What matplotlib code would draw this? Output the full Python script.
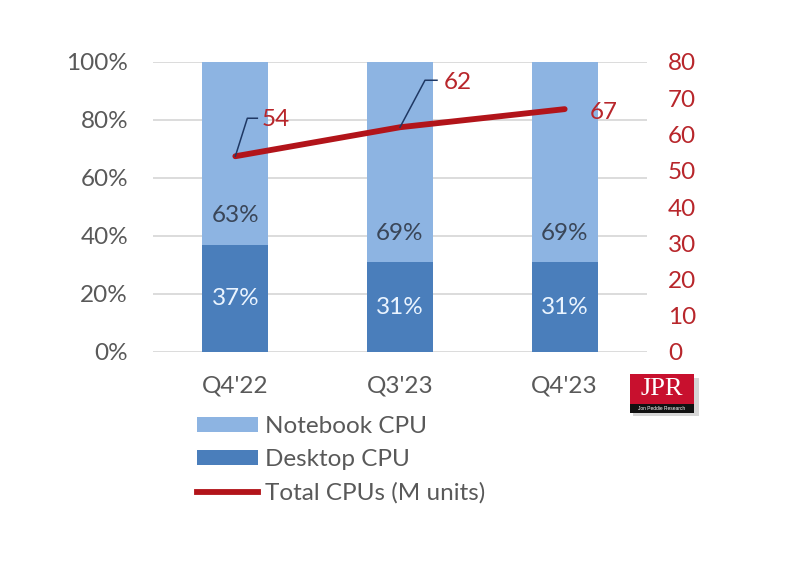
import matplotlib
matplotlib.use("Agg")
import matplotlib.pyplot as plt
from matplotlib.patches import Patch, Rectangle
from matplotlib.lines import Line2D

plt.rcParams['font.family'] = ['Lato', 'DejaVu Sans']

categories = ["Q4'22", "Q3'23", "Q4'23"]
desktop = [37, 31, 31]
notebook = [63, 69, 69]
total_units = [54, 62, 67]
left_ticks = [0, 20, 40, 60, 80, 100]
right_ticks = [0, 10, 20, 30, 40, 50, 60, 70, 80]

C_NOTE = '#8DB4E2'
C_DESK = '#4A7EBB'
C_LINE = '#B2141A'
C_RTXT = '#B8262B'
C_GRAY = '#595959'
FS = 17.5

fig = plt.figure(figsize=(8.03, 5.70), dpi=100)
fig.patch.set_facecolor('white')
W, H = 803, 570
ax = fig.add_axes([153 / W, 1 - 352 / H, 494 / W, 290 / H])
ax2 = ax.twinx()

x = list(range(len(categories)))
ax.bar(x, desktop, width=0.4, color=C_DESK, zorder=2)
ax.bar(x, notebook, width=0.4, bottom=desktop, color=C_NOTE, zorder=2)
ax.set_xlim(-0.5, 2.5)
ax.set_ylim(0, 100)
ax.set_yticks(left_ticks)
ax.set_yticklabels([f"{t}%" for t in left_ticks])
ax.yaxis.grid(True, color='#D9D9D9', linewidth=1.3, zorder=0)
ax.set_axisbelow(True)
for s in ax.spines.values():
    s.set_visible(False)
for s in ax2.spines.values():
    s.set_visible(False)
ax.tick_params(axis='y', length=0, pad=18, labelsize=FS, labelcolor=C_GRAY)
ax.set_xticks(x)
ax.set_xticklabels(categories)
ax.tick_params(axis='x', length=0, pad=17, labelsize=FS, labelcolor=C_GRAY)

for i in x:
    ax.text(i, desktop[i] / 2, f"{desktop[i]}%", ha='center', va='center',
            fontsize=FS, color='#EAF4FF', zorder=3)
    ax.text(i, desktop[i] + 10, f"{notebook[i]}%", ha='center', va='center',
            fontsize=FS, color='#3A4658', zorder=3)

ax2.plot(x, total_units, color=C_LINE, linewidth=4.2, solid_capstyle='round', zorder=4)
ax2.set_ylim(0, 80)
ax2.set_yticks(right_ticks)
ax2.tick_params(axis='y', length=0, pad=15, labelsize=FS, labelcolor=C_RTXT)

# data labels with leader lines
offsets = [((12, 38), (22, 38), (26, 37)),
           ((25, 47), (37, 47), (44, 45)),
           (None, None, (25, -3))]
fig.canvas.draw()
for i, (e1, e2, toff) in enumerate(offsets):
    px, py = ax2.transData.transform((x[i], total_units[i]))
    if e1 is not None:
        fig.lines.append(Line2D([px, px + e1[0], px + e2[0]],
                                [py, py + e1[1], py + e2[1]],
                                transform=None, color='#1F3864', linewidth=1.1))
    ax2.annotate(str(total_units[i]), xy=(x[i], total_units[i]), xytext=toff,
                 textcoords='offset pixels', ha='left', va='center',
                 fontsize=FS, color=C_RTXT, zorder=5)

# legend
handles = [Patch(facecolor=C_NOTE, edgecolor='none'),
           Patch(facecolor=C_DESK, edgecolor='none'),
           Line2D([0], [0], color=C_LINE, linewidth=4.2)]
labels = ['Notebook CPU', 'Desktop CPU', 'Total CPUs (M units)']
leg = fig.legend(handles, labels, loc='upper left',
                 bbox_to_anchor=(197 / W, 1 - 416 / H), frameon=False,
                 fontsize=FS, handlelength=2.5, handleheight=0.6,
                 handletextpad=0.3, labelspacing=0.5, borderpad=0,
                 borderaxespad=0)
for t in leg.get_texts():
    t.set_color(C_GRAY)

# JPR logo
fig.patches.append(Rectangle((633 / W, 1 - 416 / H), 66 / W, 38 / H,
                             transform=fig.transFigure, facecolor='#BBBBBB',
                             edgecolor='none', alpha=0.6))
fig.patches.append(Rectangle((630 / W, 1 - 404 / H), 64 / W, 30 / H,
                             transform=fig.transFigure, facecolor='#C8102E',
                             edgecolor='none'))
fig.patches.append(Rectangle((630 / W, 1 - 413 / H), 64 / W, 9 / H,
                             transform=fig.transFigure, facecolor='#111111',
                             edgecolor='none'))
fig.text(662 / W, 1 - 389 / H, 'JPR', ha='center', va='center', color='white',
         fontsize=19, family='Liberation Serif')
fig.text(662 / W, 1 - 408.5 / H, 'Jon Peddie Research', ha='center', va='center',
         color='white', fontsize=3.5, family='Liberation Sans')

fig.savefig('out.png', dpi=100, facecolor='white')
